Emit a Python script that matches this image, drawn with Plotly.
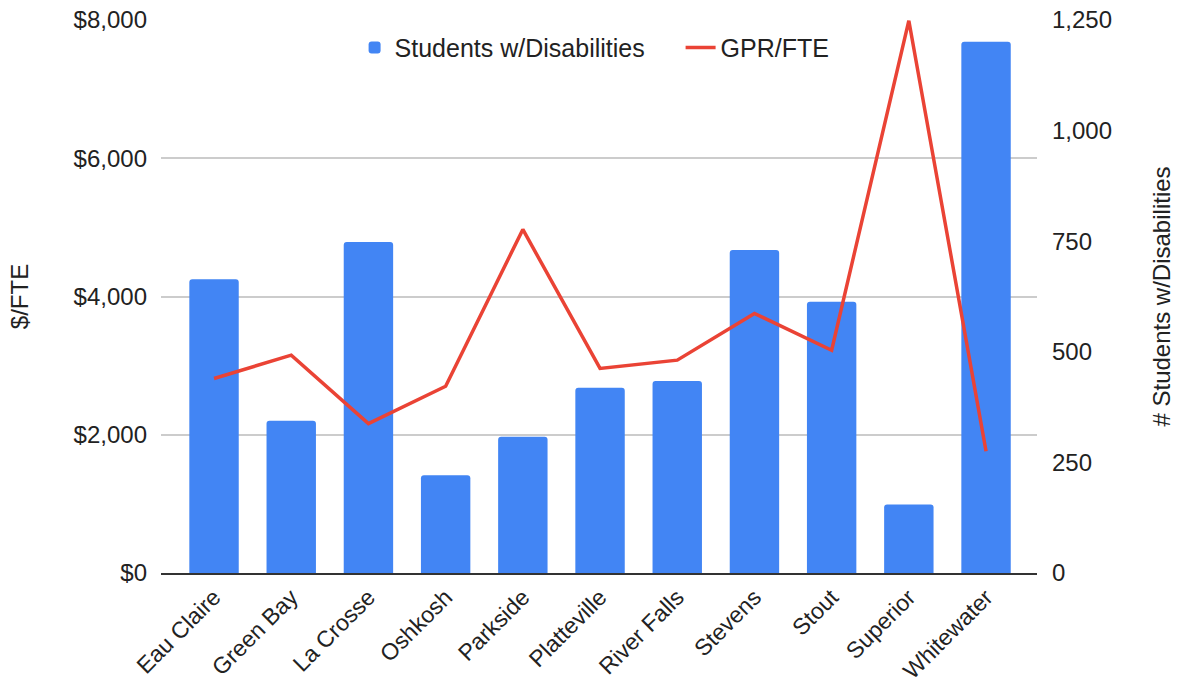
import plotly.graph_objects as go

campuses = ["Eau Claire", "Green Bay", "La Crosse", "Oshkosh", "Parkside", "Platteville",
            "River Falls", "Stevens", "Stout", "Superior", "Whitewater"]
students = [664, 344, 748, 221, 308, 419, 434, 730, 613, 155, 1201]
gpr_fte = [2814, 3151, 2162, 2702, 4970, 2959, 3079, 3755, 3223, 7990, 1762]

FONT = "Liberation Sans, Arial, sans-serif"
TXT = "#222222"

fig = go.Figure()
fig.add_trace(go.Bar(
    x=campuses, y=students, name="Students w/Disabilities",
    marker=dict(color="#4285F4", cornerradius=3, line=dict(width=0)),
    width=0.64, yaxis="y",
))
fig.add_trace(go.Scatter(
    x=campuses, y=gpr_fte, name="GPR/FTE", mode="lines",
    line=dict(color="#EA4335", width=3.5), yaxis="y2",
))

fig.update_layout(
    width=1179, height=690,
    margin=dict(l=161, r=142, t=20, b=117, autoexpand=False),
    paper_bgcolor="white", plot_bgcolor="white",
    font=dict(family=FONT, size=24, color=TXT),
    legend=dict(orientation="h", x=0.221, xanchor="left", y=0.95, yanchor="middle",
                bgcolor="rgba(0,0,0,0)", font=dict(size=25, color=TXT),
                traceorder="normal", itemwidth=30, entrywidth=281),
    xaxis=dict(
        range=[-0.687, 10.66], tickangle=-45, showgrid=False,
        showline=True, linecolor="#333333", linewidth=1.5,
        ticks="", tickfont=dict(size=23, color=TXT),
    ),
    yaxis=dict(
        side="right", range=[0, 1250], tickvals=[0, 250, 500, 750, 1000, 1250],
        tickformat=",", showgrid=False, zeroline=False, ticks="",
        ticklabelstandoff=14, tickfont=dict(size=24, color=TXT),
        title=dict(text="# Students w/Disabilities", font=dict(size=24, color=TXT), standoff=42),
    ),
    yaxis2=dict(
        overlaying="y", side="left", range=[0, 8000],
        tickvals=[0, 2000, 4000, 6000, 8000],
        ticktext=["$0", "$2,000", "$4,000", "$6,000", "$8,000"],
        showgrid=True, gridcolor="#cccccc", gridwidth=1.5, zeroline=False, ticks="",
        ticklabelstandoff=13, tickfont=dict(size=24, color=TXT),
        title=dict(text="$/FTE", font=dict(size=24, color=TXT), standoff=38),
    ),
)

fig.write_html("out.html", config={"displayModeBar": False},
               post_script="document.body.style.margin='0';")
